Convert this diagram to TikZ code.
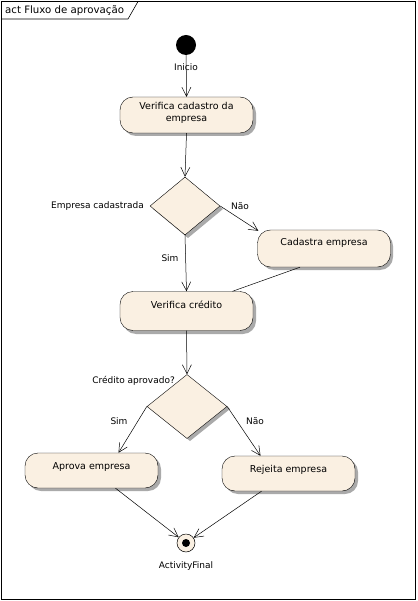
\documentclass[tikz,border=0pt]{standalone}
\usepackage{fontspec}
\setmainfont{DejaVu Sans}
\usetikzlibrary{shapes.geometric,arrows.meta,positioning}
\definecolor{actfill}{RGB}{250,240,226}
\definecolor{shadowgray}{RGB}{170,170,170}
\tikzset{
  action/.style={draw=black, fill=actfill, rounded corners=13pt, minimum width=133pt, align=center, inner sep=2pt},
  acttext/.style={font=\fontsize{9.5}{12.5}\selectfont, align=center, inner sep=1pt},
  decision/.style={draw=black, fill=actfill, diamond, inner sep=0pt},
  flow/.style={-{Straight Barb[length=9pt,width=9pt]}, line width=0.5pt},
  plain/.style={line width=0.5pt},
  lbl/.style={font=\fontsize{9}{10}\selectfont, inner sep=1pt},
}
\begin{document}
\begin{tikzpicture}[x=1pt,y=-1pt]
\useasboundingbox (0,0) rectangle (417,601);
% frame
\draw[line width=0.6pt] (1.5,1.5) rectangle (415,599);
\draw[line width=0.6pt] (1.5,19) -- (128,19) -- (138,1.5);
\node[lbl, anchor=west, font=\fontsize{10.2}{12}\selectfont] (title) at (4,10.5) {act Fluxo de aprovação};

% start
\node[circle, fill=black, minimum size=20pt, inner sep=0pt] (start) at (186,45) {};
\node[lbl] (startlbl) at (186,67) {Inicio};

% shadows
\fill[shadowgray, rounded corners=13pt] (123,100) rectangle (256,136);
\fill[shadowgray, rounded corners=13pt] (261,233) rectangle (393,270);
\fill[shadowgray, rounded corners=13pt] (123,294) rectangle (256,334);
\fill[shadowgray, rounded corners=13pt] (28,456) rectangle (161,491);
\fill[shadowgray, rounded corners=13pt] (225,459) rectangle (358,494);
\fill[shadowgray] (188,180) -- (223,209) -- (188,238) -- (153,209) -- cycle;
\fill[shadowgray] (190,378) -- (230,409) -- (190,441) -- (150,409) -- cycle;

% actions
\node[action, minimum height=36pt] (vc) at (186.5,115) {};
\node[acttext] (vctext) at (186.5,113) {Verifica cadastro da\\empresa};
\node[decision, minimum width=70pt, minimum height=58pt] (d1) at (185,206) {};
\node[action, minimum height=37pt] (ce) at (324,248.5) {};
\node[acttext] (cetext) at (324,243) {Cadastra empresa};
\node[action, minimum height=39pt] (vcr) at (186.5,311) {};
\node[acttext] (vcrtext) at (186.5,305) {Verifica crédito};
\node[decision, minimum width=80pt, minimum height=64pt] (d2) at (187,406.5) {};
\node[action, minimum height=35pt] (ap) at (91.5,470.5) {};
\node[acttext] (aptext) at (91.5,467) {Aprova empresa};
\node[action, minimum height=35pt] (rj) at (288.5,473.5) {};
\node[acttext] (rjtext) at (288.5,470) {Rejeita empresa};

% final
\node[circle, draw=black, fill=actfill, minimum size=18pt, inner sep=0pt, line width=0.5pt] (final) at (186,543) {};
\node[circle, fill=black, minimum size=8pt, inner sep=0pt] (finaldot) at (186,543) {};
\node[lbl] (finallbl) at (186,566) {ActivityFinal};

% labels
\node[lbl, anchor=east] (l1) at (145,206) {Empresa cadastrada};
\node[lbl] (l2) at (240,206) {Não};
\node[lbl] (l3) at (170,258) {Sim};
\node[lbl, anchor=east] (l4) at (176,381) {Crédito aprovado?};
\node[lbl] (l5) at (119,421) {Sim};
\node[lbl] (l6) at (255,421) {Não};

% flows
\draw[flow] (start) -- (vc.north);
\draw[flow] (vc.south) -- (d1.north);
\draw[flow] (d1.east) -- ([xshift=1pt,yshift=-1pt]ce.north west);
\draw[flow] (d1.south) -- (vcr.north);
\draw[plain] ([xshift=-24pt]ce.south) -- ([xshift=46pt]vcr.north);
\draw[flow] (vcr.south) -- (d2.north);
\draw[flow] (d2.west) -- ([xshift=27pt]ap.north);
\draw[flow] (d2.east) -- ([xshift=-28pt]rj.north);
\draw[flow] ([xshift=24pt]ap.south) -- (final);
\draw[flow] ([xshift=-27pt]rj.south) -- (final);
\end{tikzpicture}
\end{document}
